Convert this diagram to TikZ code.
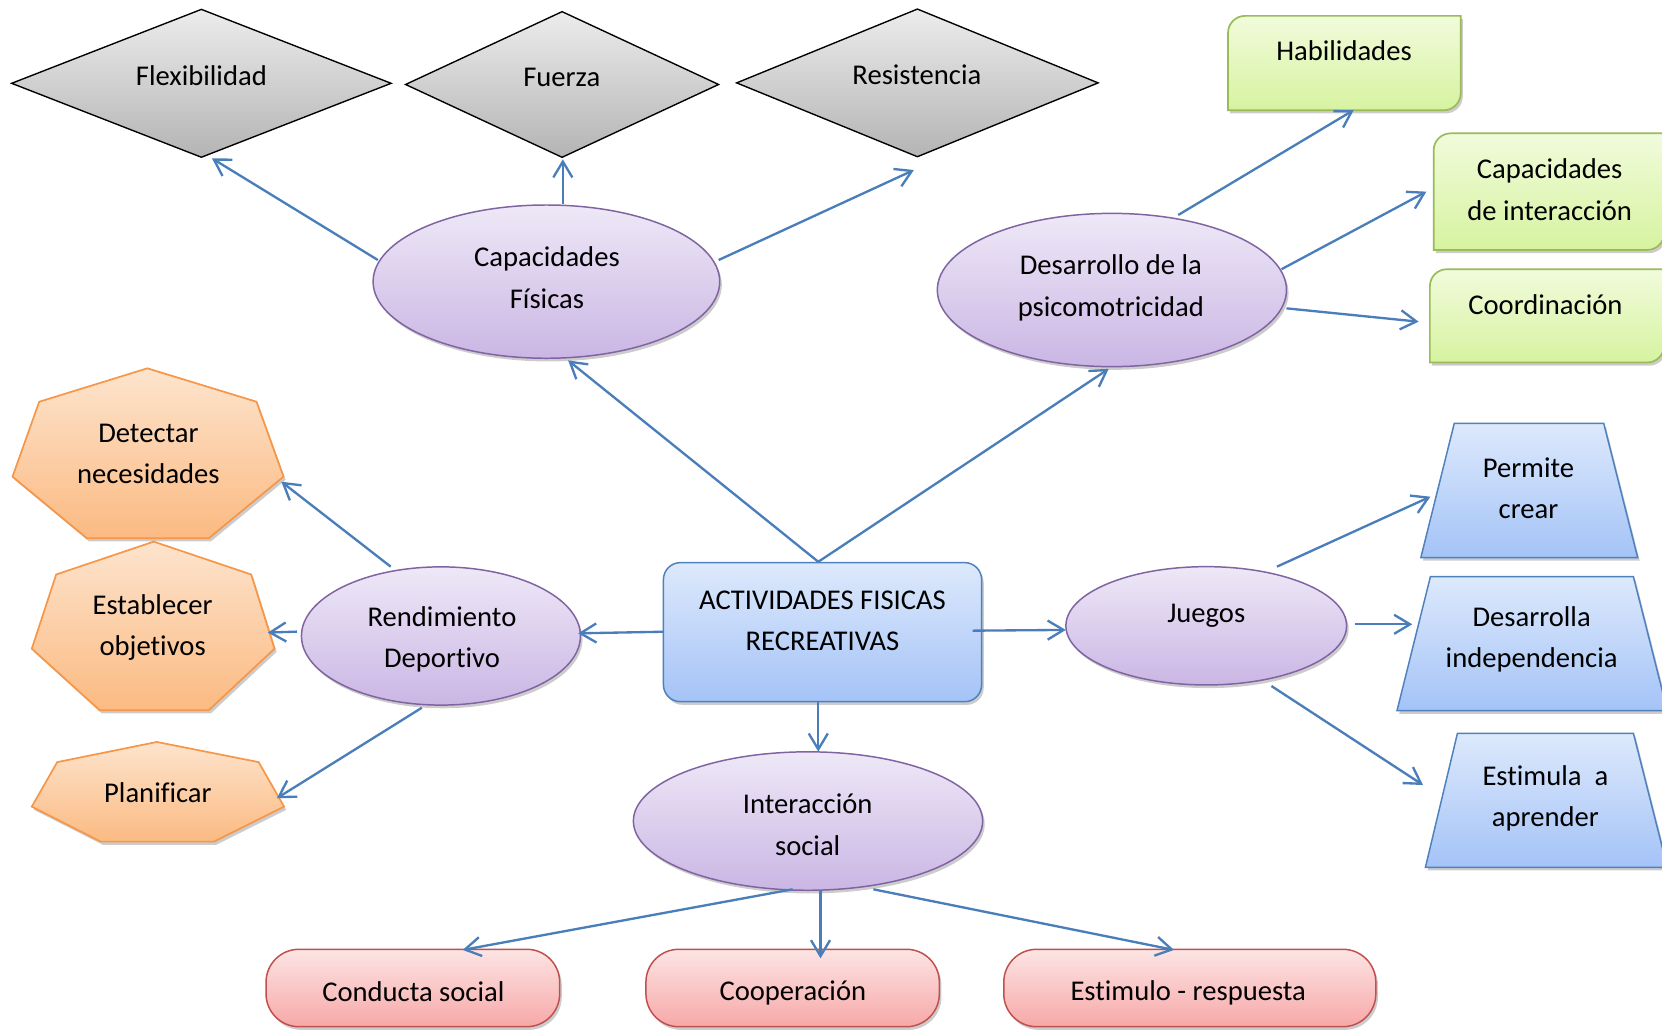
\documentclass[tikz,border=0pt]{standalone}
\usepackage{fontspec}
\setmainfont{Carlito}[Ligatures=NoCommon]
\usetikzlibrary{shapes.geometric,arrows.meta,shadows}

\definecolor{arrowblue}{RGB}{74,126,187}
\definecolor{purpleedge}{RGB}{128,100,162}
\definecolor{purpletop}{RGB}{238,232,247}
\definecolor{purplebot}{RGB}{202,182,228}
\definecolor{graytop}{RGB}{236,236,236}
\definecolor{graybot}{RGB}{180,180,180}
\definecolor{blueedge}{RGB}{79,129,189}
\definecolor{bluetop}{RGB}{221,233,252}
\definecolor{bluebot}{RGB}{164,195,247}
\definecolor{greenedge}{RGB}{155,187,89}
\definecolor{greentop}{RGB}{241,251,219}
\definecolor{greenbot}{RGB}{214,243,160}
\definecolor{orangeedge}{RGB}{247,150,70}
\definecolor{orangetop}{RGB}{253,228,205}
\definecolor{orangebot}{RGB}{251,186,130}
\definecolor{rededge}{RGB}{192,80,77}
\definecolor{redtop}{RGB}{253,228,228}
\definecolor{redbot}{RGB}{247,168,168}

\begin{document}
\begin{tikzpicture}[x=1pt,y=1pt,
  font=\fontsize{27}{39}\selectfont,
  every node/.style={inner sep=0pt, outer sep=0pt},
  lbl/.style={align=center, text=black},
  softshade/.style={drop shadow={shadow xshift=2pt, shadow yshift=-3pt, opacity=0.2, fill=black}},
  oval/.style={ellipse, draw=purpleedge, line width=1.4pt, top color=purpletop, bottom color=purplebot, softshade},
  gem/.style={diamond, draw=black, line width=1.3pt, top color=graytop, bottom color=graybot},
  hub/.style={rectangle, rounded corners=16pt, draw=blueedge, line width=1.4pt, top color=bluetop, bottom color=bluebot, softshade},
  pill/.style={rectangle, rounded corners=31pt, draw=rededge, line width=1.4pt, top color=redtop, bottom color=redbot, softshade},
  holder/.style={rectangle, draw=none},
  greenpath/.style={draw=greenedge, line width=1.6pt, top color=greentop, bottom color=greenbot, softshade},
  orangepath/.style={draw=orangeedge, line width=1.6pt, top color=orangetop, bottom color=orangebot, softshade},
  bluepath/.style={draw=blueedge, line width=1.4pt, top color=bluetop, bottom color=bluebot, softshade},
  arr/.style={draw=arrowblue, line width=2.2pt, -{Straight Barb[length=15pt,width=18pt]}},
]
\clip (0,0) rectangle (1568,-972);
\fill[white] (0,0) rectangle (1568,-972);

% ---- physical capacities (diamonds) ----
\node[gem, minimum width=358pt, minimum height=139.5pt] (flex) at (190,-78.6) {};
\node[gem, minimum width=295.3pt, minimum height=137.4pt] (fuer) at (530.3,-79.7) {};
\node[gem, minimum width=341pt, minimum height=139.3pt] (resi) at (865.5,-78.2) {};
\node[lbl] (flex-t) at (190,-71) {Flexibilidad};
\node[lbl] (fuer-t) at (530,-73) {Fuerza};
\node[lbl] (resi-t) at (865,-71) {Resistencia};

% ---- psychomotor boxes (green, two rounded corners) ----
\node[holder, minimum width=219.5pt, minimum height=89pt] (hab) at (1268.3,-59.5) {};
\node[holder, minimum width=217.5pt, minimum height=110pt] (capi) at (1461.3,-180.8) {};
\node[holder, minimum width=221pt, minimum height=88pt] (coor) at (1459.5,-298) {};
\foreach \b in {hab,capi,coor}{
  \path[greenpath] (\b.south west) -- ([yshift=-16pt]\b.north west)
    arc[start angle=180, end angle=90, radius=16pt] -- (\b.north east)
    -- ([yshift=16pt]\b.south east)
    arc[start angle=0, end angle=-90, radius=16pt] -- cycle;
}
\node[lbl] (hab-t) at (1268,-48) {Habilidades};
\node[lbl] (capi-t) at (1462,-179) {Capacidades\\de interacción};
\node[lbl] (coor-t) at (1458,-287) {Coordinación};

% ---- purple ellipses ----
\node[oval, minimum width=327pt, minimum height=144.6pt] (cf) at (515.5,-265.7) {};
\node[oval, minimum width=329.4pt, minimum height=144.6pt] (dp) at (1049,-273.6) {};
\node[oval, minimum width=263.2pt, minimum height=130.4pt] (rd) at (416,-600) {};
\node[oval, minimum width=264.8pt, minimum height=111.6pt] (jue) at (1138,-590.4) {};
\node[oval, minimum width=329.5pt, minimum height=130.6pt] (int) at (762.3,-774.6) {};
\node[lbl] (cf-t) at (516,-262) {Capacidades\\Físicas};
\node[lbl] (dp-t) at (1048,-271.5) {Desarrollo de la\\psicomotricidad};
\node[lbl] (rd-t) at (417,-603.5) {Rendimiento\\Deportivo};
\node[lbl] (jue-t) at (1138,-581) {Juegos};
\node[lbl] (int-t) at (762,-778) {Interacción\\social};

% ---- central box ----
\node[hub, minimum width=300.2pt, minimum height=131.2pt] (act) at (776,-596.4) {};
\node[lbl] (act-t) at (776,-585.5) {ACTIVIDADES FISICAS\\RECREATIVAS};

% ---- sport performance (orange heptagons) ----
\node[holder, minimum width=255.7pt, minimum height=160.3pt] (det) at (139.65,-427.65) {};
\node[holder, minimum width=229pt, minimum height=159pt] (est) at (144.5,-590.5) {};
\node[holder, minimum width=238pt, minimum height=94pt] (pla) at (149,-747) {};
\path[orangepath] (139,-347.5) -- (242,-379) -- (267.5,-449.7) -- (197,-507.8)
  -- (82,-507.8) -- (11.8,-449.7) -- (37,-379) -- cycle;
\path[orangepath] (145,-511) -- (237,-542) -- (259,-612) -- (197,-670)
  -- (94,-670) -- (30,-612) -- (53,-542) -- cycle;
\path[orangepath] (148,-700) -- (244,-719) -- (268,-761) -- (202,-794)
  -- (95,-794) -- (30,-761) -- (54,-719) -- cycle;
\node[lbl] (det-t) at (140,-428) {Detectar\\necesidades};
\node[lbl] (est-t) at (144,-592) {Establecer\\objetivos};
\node[lbl] (pla-t) at (149,-748) {Planificar};

% ---- games (blue trapezoids) ----
\node[holder, minimum width=204.5pt, minimum height=126.6pt] (per) at (1442.75,-462.7) {};
\node[holder, minimum width=255pt, minimum height=126.4pt] (des) at (1445.5,-607.2) {};
\node[holder, minimum width=228.2pt, minimum height=126.4pt] (esti) at (1458.9,-755) {};
\path[bluepath] (per.south west) -- ([xshift=31.5pt]per.north west)
  -- ([xshift=-32pt]per.north east) -- (per.south east) -- cycle;
\path[bluepath] (des.south west) -- ([xshift=31.5pt]des.north west)
  -- ([xshift=-32pt]des.north east) -- (des.south east) -- cycle;
\path[bluepath] (esti.south west) -- ([xshift=30.2pt]esti.north west)
  -- ([xshift=-32pt]esti.north east) -- (esti.south east) -- cycle;
\node[lbl] (per-t) at (1442,-460.5) {Permite\\crear};
\node[lbl] (des-t) at (1445,-603.5) {Desarrolla\\independencia};
\node[lbl] (esti-t) at (1458,-753.5) {Estimula~~a\\aprender};

% ---- social interaction (red pills) ----
\node[pill, minimum width=277pt, minimum height=73pt] (con) at (389.5,-932.1) {};
\node[pill, minimum width=276.8pt, minimum height=73pt] (coop) at (747.8,-932.1) {};
\node[pill, minimum width=351pt, minimum height=73pt] (estr) at (1122.5,-932.1) {};
\node[lbl] (con-t) at (390,-936) {Conducta social};
\node[lbl] (coop-t) at (748,-937) {Cooperación};
\node[lbl] (estr-t) at (1121,-937) {Estimulo - respuesta};

% ---- connectors ----
\draw[arr] ([shift={(-159,20.4)}]cf.center) -- ([shift={(10,-70.8)}]flex.center);
\draw[arr] ([shift={(15.5,73.2)}]cf.center) -- ([shift={(0.7,-70.6)}]fuer.center);
\draw[arr] ([shift={(162.5,20.4)}]cf.center) -- ([shift={(-3.3,-82.2)}]resi.center);
\draw[arr] ([shift={(62.6,70.8)}]dp.center) -- ([shift={(8.9,-44.3)}]hab.center);
\draw[arr] ([shift={(160,19.6)}]dp.center) -- ([shift={(-115.6,0)}]capi.center);
\draw[arr] ([shift={(164.7,-17.3)}]dp.center) -- ([shift={(-121.1,-5.5)}]coor.center);
\draw[arr] ([shift={(-4,66.4)}]act.center) -- ([shift={(20.5,-74.3)}]cf.center);
\draw[arr] ([shift={(-4,66.4)}]act.center) -- ([shift={(-3,-74.4)}]dp.center);
\draw[arr] ([shift={(-150.5,0.4)}]act.center) -- ([shift={(129.5,2.5)}]rd.center);
\draw[arr] ([shift={(-47.4,65.4)}]rd.center) -- ([shift={(125.8,-26.8)}]det.center);
\draw[arr] ([shift={(-135.9,4.1)}]rd.center) -- ([shift={(108.2,-6.3)}]est.center);
\draw[arr] ([shift={(-18,-67.7)}]rd.center) -- ([shift={(112.2,-6.1)}]pla.center);
\draw[arr] ([shift={(141.6,1.4)}]act.center) -- ([shift={(-132.5,-3.9)}]jue.center);
\draw[arr] ([shift={(66.7,55.8)}]jue.center) -- ([shift={(-93.3,-5.9)}]per.center);
\draw[arr] ([shift={(140.8,1.4)}]jue.center) -- ([shift={(-113.1,18.2)}]des.center);
\draw[arr] ([shift={(61.5,-56.8)}]jue.center) -- ([shift={(-116.4,14.4)}]esti.center);
\draw[arr] ([shift={(-4,-65.6)}]act.center) -- ([shift={(9.7,65.5)}]int.center);
\draw[arr] ([shift={(-14.5,-64.4)}]int.center) -- ([shift={(47,35.9)}]con.center);
\draw[arr] ([shift={(11.8,-65)}]int.center) -- ([shift={(26.3,28)}]coop.center);
\draw[arr] ([shift={(61.7,-64.4)}]int.center) -- ([shift={(-14.9,35.9)}]estr.center);
\end{tikzpicture}
\end{document}
